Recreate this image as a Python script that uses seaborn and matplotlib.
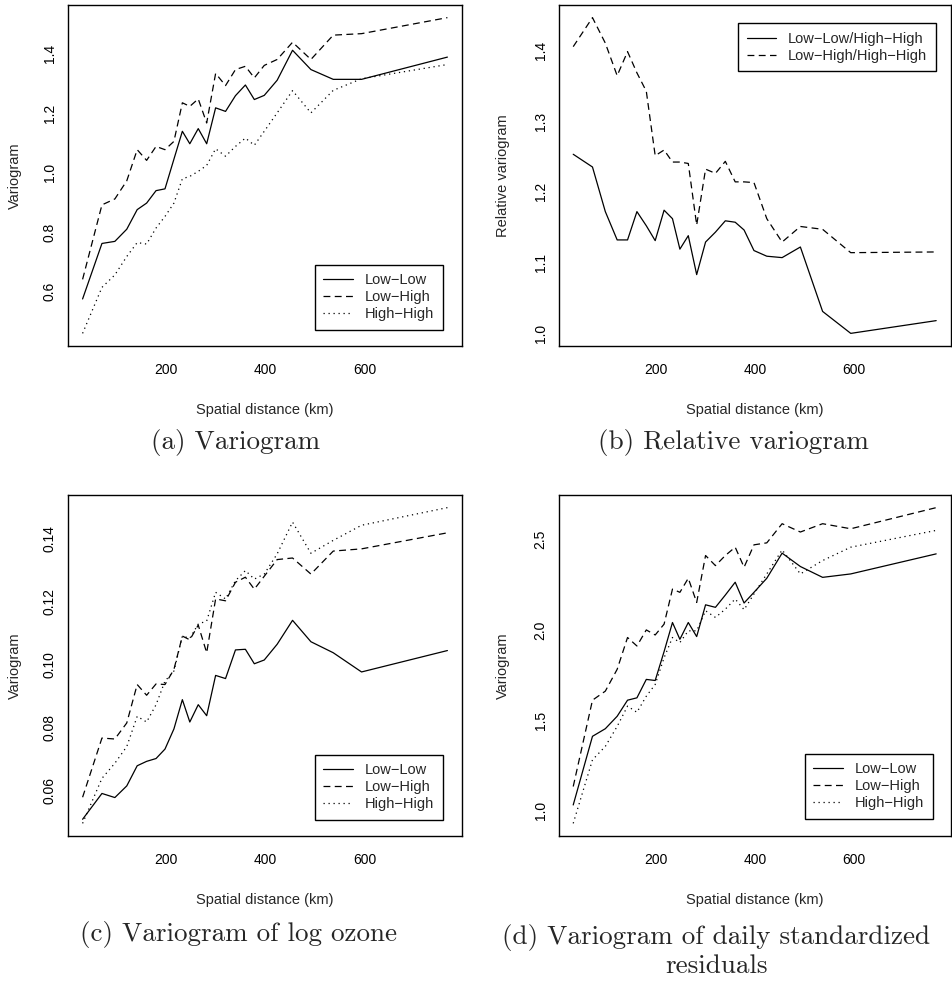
import numpy as np
import pandas as pd
import matplotlib
matplotlib.use("Agg")
import matplotlib.pyplot as plt
import seaborn as sns
from matplotlib.lines import Line2D
from matplotlib.ticker import FormatStrFormatter

sns.set_style("white")
plt.rcParams["font.family"] = ["Liberation Sans", "DejaVu Sans"]
plt.rcParams["axes.edgecolor"] = "black"
plt.rcParams["axes.linewidth"] = 1.0

# ---------------- data ----------------
x_km = [32, 71, 97, 121, 142, 161, 180, 198, 216, 233, 248, 265, 282, 300,
        320, 340, 360, 378, 398, 424, 455, 492, 537, 594, 767]

a_low_low = [0.574, 0.761, 0.768, 0.809, 0.875, 0.897, 0.939, 0.945, 1.045, 1.139,
             1.097, 1.148, 1.097, 1.218, 1.206, 1.259, 1.295, 1.246, 1.260, 1.311,
             1.412, 1.347, 1.314, 1.314, 1.389]
a_low_high = [0.640, 0.891, 0.911, 0.972, 1.077, 1.041, 1.088, 1.077, 1.105, 1.235,
              1.223, 1.248, 1.167, 1.334, 1.293, 1.347, 1.358, 1.319, 1.361, 1.381,
              1.439, 1.381, 1.463, 1.468, 1.522]
a_high_high = [0.458, 0.613, 0.655, 0.717, 0.764, 0.759, 0.813, 0.852, 0.897, 0.979,
               0.987, 1.004, 1.024, 1.080, 1.055, 1.088, 1.116, 1.092, 1.139, 1.201,
               1.276, 1.201, 1.277, 1.316, 1.364]

b_ll_hh = [1.253, 1.235, 1.172, 1.132, 1.132, 1.172, 1.152, 1.131, 1.174, 1.162,
           1.119, 1.138, 1.083, 1.129, 1.143, 1.159, 1.157, 1.146, 1.117, 1.109,
           1.107, 1.122, 1.031, 1.000, 1.018]
b_lh_hh = [1.405, 1.446, 1.410, 1.364, 1.398, 1.368, 1.342, 1.251, 1.259, 1.242,
           1.242, 1.240, 1.153, 1.232, 1.226, 1.243, 1.214, 1.214, 1.213, 1.162,
           1.129, 1.151, 1.147, 1.114, 1.115]

c_low_low = [0.0509, 0.0591, 0.0578, 0.0615, 0.0679, 0.0693, 0.0702, 0.0732, 0.0796, 0.0889,
             0.0818, 0.0873, 0.0838, 0.0966, 0.0956, 0.1047, 0.1049, 0.1003, 0.1015, 0.1065,
             0.1141, 0.1073, 0.1038, 0.0977, 0.1045]
c_low_high = [0.0579, 0.0767, 0.0764, 0.0815, 0.0937, 0.0903, 0.0939, 0.0937, 0.0985, 0.1091,
              0.1079, 0.1126, 0.1038, 0.1209, 0.1203, 0.1262, 0.1278, 0.1240, 0.1281, 0.1334,
              0.1339, 0.1288, 0.1361, 0.1368, 0.1419]
c_high_high = [0.0496, 0.0639, 0.0687, 0.0740, 0.0836, 0.0818, 0.0873, 0.0948, 0.0980, 0.1091,
               0.1084, 0.1129, 0.1139, 0.1230, 0.1209, 0.1267, 0.1299, 0.1272, 0.1288, 0.1352,
               0.1453, 0.1354, 0.1395, 0.1443, 0.1499]

d_low_low = [1.032, 1.412, 1.454, 1.523, 1.612, 1.625, 1.727, 1.721, 1.881, 2.042,
             1.949, 2.042, 1.964, 2.140, 2.126, 2.194, 2.265, 2.150, 2.209, 2.287,
             2.426, 2.352, 2.292, 2.311, 2.422]
d_low_high = [1.134, 1.612, 1.662, 1.783, 1.959, 1.912, 2.001, 1.973, 2.033, 2.227,
              2.209, 2.287, 2.153, 2.413, 2.357, 2.413, 2.459, 2.348, 2.472, 2.483,
              2.589, 2.543, 2.589, 2.561, 2.678]
d_high_high = [0.930, 1.282, 1.356, 1.467, 1.579, 1.545, 1.634, 1.699, 1.847, 1.959,
               1.931, 1.996, 1.996, 2.107, 2.070, 2.116, 2.172, 2.113, 2.200, 2.311,
               2.444, 2.311, 2.385, 2.459, 2.552]

labels3 = ["Low\u2212Low", "Low\u2212High", "High\u2212High"]
labels2 = ["Low\u2212Low/High\u2212High", "Low\u2212High/High\u2212High"]
x_ticks = [200, 400, 600]
yticks_a = [0.6, 0.8, 1.0, 1.2, 1.4]
yticks_b = [1.0, 1.1, 1.2, 1.3, 1.4]
yticks_c = [0.06, 0.08, 0.10, 0.12, 0.14]
yticks_d = [1.0, 1.5, 2.0, 2.5]
captions = ["(a) Variogram", "(b) Relative variogram",
            "(c) Variogram of log ozone",
            "(d) Variogram of daily standardized\nresiduals"]

# ---------------- styling ----------------
SOLID = ""
DASHED = (5.5, 3.5)
DOTTED = (1, 3)
LW = 0.9

W, H = 952, 981
fig = plt.figure(figsize=(W / 100, H / 100), dpi=100)


def add_ax(l, t, w, h):
    return fig.add_axes([l / W, 1 - (t + h) / H, w / W, h / H])


def panel(ax, series, labels, styles, yticks, yfmt, ylabel, ylab_x,
          leg_loc, leg_anchor):
    df = pd.concat([pd.DataFrame({"dist": x_km, "value": v, "pair": lab})
                    for v, lab in zip(series, labels)], ignore_index=True)
    sns.lineplot(data=df, x="dist", y="value", style="pair", style_order=labels,
                 dashes=dict(zip(labels, styles)), color="black", lw=LW,
                 estimator=None, legend=False, ax=ax)
    ax.margins(x=0.04, y=0.04)
    ax.set_xticks(x_ticks)
    ax.set_yticks(yticks)
    ax.yaxis.set_major_formatter(FormatStrFormatter(yfmt))
    ax.tick_params(direction="out", length=6.5, width=1, color="black",
                   labelsize=10, labelcolor="black")
    ax.tick_params(axis="x", pad=6)
    ax.tick_params(axis="y", pad=1.5, labelrotation=90)
    plt.setp(ax.get_yticklabels(), va="center")
    for s in ax.spines.values():
        s.set_visible(True)
        s.set_color("black")
        s.set_linewidth(1.0)
    ax.set_xlabel("Spatial distance (km)", fontsize=10.5)
    ax.xaxis.set_label_coords(0.5, -64 / 341)
    ax.xaxis.label.set_va("center")
    ax.set_ylabel(ylabel, fontsize=10.5)
    ax.yaxis.set_label_coords(ylab_x, 0.5)
    ax.yaxis.label.set_va("center")
    handles = []
    for st in styles:
        if st == "":
            handles.append(Line2D([], [], color="black", lw=LW, linestyle="-"))
        else:
            handles.append(Line2D([], [], color="black", lw=LW,
                                  linestyle=(0, st)))
    leg = ax.legend(handles, labels, loc=leg_loc, bbox_to_anchor=leg_anchor,
                    borderaxespad=0, frameon=True, fancybox=False,
                    edgecolor="black", framealpha=1, handlelength=2.0,
                    handletextpad=0.85, labelspacing=0.2, borderpad=0.6,
                    fontsize=10.5)
    leg.get_frame().set_linewidth(1.0)


ax_a = add_ax(68, 5, 394, 341)
ax_b = add_ax(558.7, 5, 392, 341)
ax_c = add_ax(68, 495, 394, 341)
ax_d = add_ax(558.7, 495, 392, 341)

panel(ax_a, [a_low_low, a_low_high, a_high_high], labels3,
      [SOLID, DASHED, DOTTED], yticks_a, "%.1f", "Variogram", -53 / 394,
      "lower right", ((443 - 68) / 394, (346 - 330) / 341))
panel(ax_b, [b_ll_hh, b_lh_hh], labels2, [SOLID, DASHED], yticks_b, "%.1f",
      "Relative variogram", (503 - 558.7) / 392,
      "upper right", ((936 - 558.7) / 392, (346 - 23) / 341))
panel(ax_c, [c_low_low, c_low_high, c_high_high], labels3,
      [SOLID, DASHED, DOTTED], yticks_c, "%.2f", "Variogram", -53 / 394,
      "lower right", ((443 - 68) / 394, (346 - 330) / 341))
panel(ax_d, [d_low_low, d_low_high, d_high_high], labels3,
      [SOLID, DASHED, DOTTED], yticks_d, "%.1f", "Variogram",
      (503 - 558.7) / 392,
      "lower right", ((933 - 558.7) / 392, (346 - 329) / 341))

cap_pos = [(236, 443), (733, 443), (238, 935), (716, 951)]
for txt, (cx, cy) in zip(captions, cap_pos):
    fig.text(cx / W, 1 - cy / H, txt, family="cmr10", fontsize=19.5,
             ha="center", va="center", linespacing=1.2, multialignment="center")

fig.savefig("out.png", dpi=100)
